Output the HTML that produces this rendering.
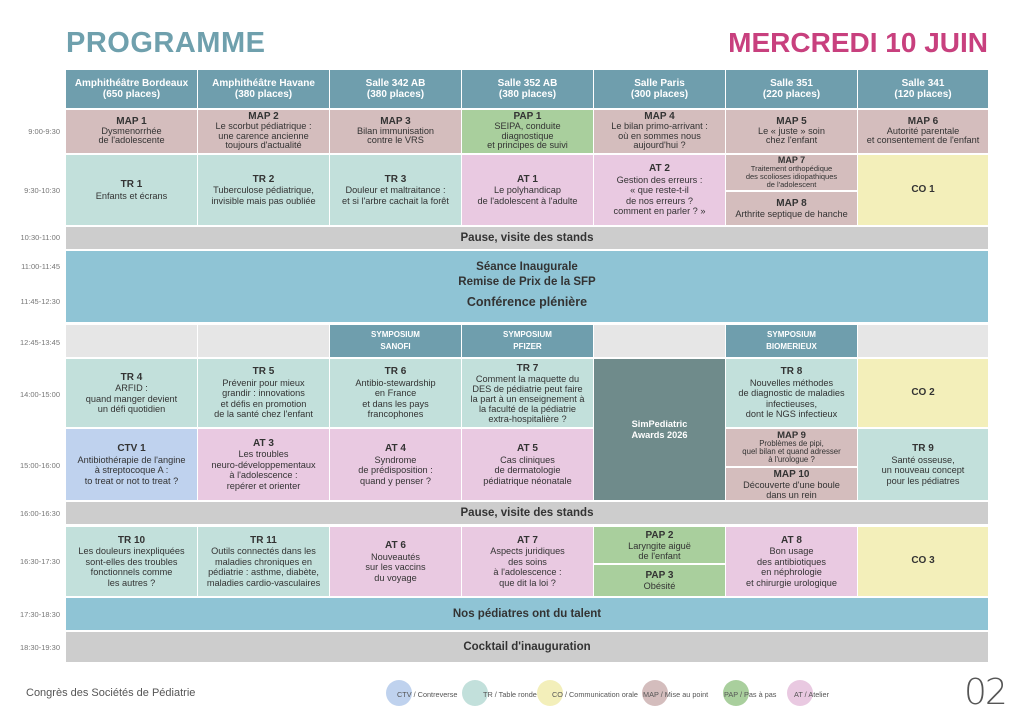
<!DOCTYPE html><html><head><meta charset="utf-8"><style>
body{margin:0;width:1024px;height:725px;background:#fff;position:relative;overflow:hidden;font-family:"Liberation Sans",sans-serif;}
.c{position:absolute;display:flex;align-items:center;justify-content:center;text-align:center;font-size:9.2px;line-height:10.5px;color:#333;box-sizing:border-box;padding:0 2px}
.c b{font-size:10px}
.h{background:#6f9ead;color:#fff;font-weight:bold;font-size:10px;line-height:11.5px}
.sy{background:#6f9ead;color:#fff;font-weight:bold;font-size:8px;line-height:12px}
.m{background:#d4bdbd}.t{background:#c2e0db}.a{background:#e9c9e1}.p{background:#a9cf9d}.o{background:#f3efba}.v{background:#bfd2ee}.g{background:#cdcdcd;font-weight:bold;font-size:11.5px}.e{background:#e6e6e6}.pl{background:#8fc4d5;font-weight:bold;font-size:11.5px;line-height:15px}
.r1{line-height:9.8px}
.tm{position:absolute;left:0;width:60px;text-align:right;font-size:7.5px;color:#777}
.lg{position:absolute;top:680px;width:26px;height:26px;border-radius:50%}
.lt{position:absolute;top:690px;font-size:7.3px;color:#555;white-space:nowrap}
</style></head><body>
<div style="position:absolute;left:66px;top:27px;font-size:29px;font-weight:bold;color:#6fa0ad;letter-spacing:0.5px">PROGRAMME</div>
<div style="position:absolute;right:36px;top:27px;font-size:28px;color:#c8407e;font-weight:bold">MERCREDI 10 JUIN</div>

<div class="c h" style="left:66px;top:70px;width:131px;height:38px">Amphithéâtre Bordeaux<br>(650 places)</div>
<div class="c h" style="left:198px;top:70px;width:131px;height:38px">Amphithéâtre Havane<br>(380 places)</div>
<div class="c h" style="left:330px;top:70px;width:131px;height:38px">Salle 342 AB<br>(380 places)</div>
<div class="c h" style="left:462px;top:70px;width:131px;height:38px">Salle 352 AB<br>(380 places)</div>
<div class="c h" style="left:594px;top:70px;width:131px;height:38px">Salle Paris<br>(300 places)</div>
<div class="c h" style="left:726px;top:70px;width:131px;height:38px">Salle 351<br>(220 places)</div>
<div class="c h" style="left:858px;top:70px;width:130px;height:38px">Salle 341<br>(120 places)</div>

<div class="tm" style="top:127px">9:00-9:30</div>
<div class="c m r1" style="left:66px;top:110px;width:131px;height:43px"><div><b>MAP 1</b><br>Dysmenorrhée<br>de l'adolescente</div></div>
<div class="c m r1" style="left:198px;top:110px;width:131px;height:43px"><div><b>MAP 2</b><br>Le scorbut pédiatrique :<br>une carence ancienne<br>toujours d'actualité</div></div>
<div class="c m r1" style="left:330px;top:110px;width:131px;height:43px"><div><b>MAP 3</b><br>Bilan immunisation<br>contre le VRS</div></div>
<div class="c p r1" style="left:462px;top:110px;width:131px;height:43px"><div><b>PAP 1</b><br>SEIPA, conduite<br>diagnostique<br>et principes de suivi</div></div>
<div class="c m r1" style="left:594px;top:110px;width:131px;height:43px"><div><b>MAP 4</b><br>Le bilan primo-arrivant :<br>où en sommes nous<br>aujourd'hui ?</div></div>
<div class="c m r1" style="left:726px;top:110px;width:131px;height:43px"><div><b>MAP 5</b><br>Le « juste » soin<br>chez l'enfant</div></div>
<div class="c m r1" style="left:858px;top:110px;width:130px;height:43px"><div><b>MAP 6</b><br>Autorité parentale<br>et consentement de l'enfant</div></div>

<div class="tm" style="top:186px">9:30-10:30</div>
<div class="c t" style="left:66px;top:155px;width:131px;height:70px"><div><b>TR 1</b><br>Enfants et écrans</div></div>
<div class="c t" style="left:198px;top:155px;width:131px;height:70px"><div><b>TR 2</b><br>Tuberculose pédiatrique,<br>invisible mais pas oubliée</div></div>
<div class="c t" style="left:330px;top:155px;width:131px;height:70px"><div><b>TR 3</b><br>Douleur et maltraitance :<br>et si l'arbre cachait la forêt</div></div>
<div class="c a" style="left:462px;top:155px;width:131px;height:70px"><div><b>AT 1</b><br>Le polyhandicap<br>de l'adolescent à l'adulte</div></div>
<div class="c a" style="left:594px;top:155px;width:131px;height:70px"><div><b>AT 2</b><br>Gestion des erreurs :<br>« que reste-t-il<br>de nos erreurs ?<br>comment en parler ? »</div></div>
<div class="c m" style="left:726px;top:155px;width:131px;height:35px;font-size:7.5px;line-height:8px"><div><b style="font-size:9px">MAP 7</b><br>Traitement orthopédique<br>des scolioses idiopathiques<br>de l'adolescent</div></div>
<div class="c m" style="left:726px;top:192px;width:131px;height:33px"><div><b>MAP 8</b><br>Arthrite septique de hanche</div></div>
<div class="c o" style="left:858px;top:155px;width:130px;height:70px"><b>CO 1</b></div>

<div class="tm" style="top:233px">10:30-11:00</div>
<div class="c g" style="left:66px;top:227px;width:922px;height:22px">Pause, visite des stands</div>
<div class="tm" style="top:262px">11:00-11:45</div>
<div class="tm" style="top:297px">11:45-12:30</div>
<div class="c pl" style="left:66px;top:251px;width:922px;height:71px"><div>Séance Inaugurale<br>Remise de Prix de la SFP<br><span style="font-size:12.5px;line-height:24px">Conférence plénière</span></div></div>

<div class="tm" style="top:338px">12:45-13:45</div>
<div class="c e" style="left:66px;top:325px;width:131px;height:32px"></div>
<div class="c e" style="left:198px;top:325px;width:131px;height:32px"></div>
<div class="c sy" style="left:330px;top:325px;width:131px;height:32px">SYMPOSIUM<br>SANOFI</div>
<div class="c sy" style="left:462px;top:325px;width:131px;height:32px">SYMPOSIUM<br>PFIZER</div>
<div class="c e" style="left:594px;top:325px;width:131px;height:32px"></div>
<div class="c sy" style="left:726px;top:325px;width:131px;height:32px">SYMPOSIUM<br>BIOMERIEUX</div>
<div class="c e" style="left:858px;top:325px;width:130px;height:32px"></div>

<div class="tm" style="top:390px">14:00-15:00</div>
<div class="c t" style="left:66px;top:359px;width:131px;height:68px"><div><b>TR 4</b><br>ARFID :<br>quand manger devient<br>un défi quotidien</div></div>
<div class="c t" style="left:198px;top:359px;width:131px;height:68px"><div><b>TR 5</b><br>Prévenir pour mieux<br>grandir : innovations<br>et défis en promotion<br>de la santé chez l'enfant</div></div>
<div class="c t" style="left:330px;top:359px;width:131px;height:68px"><div><b>TR 6</b><br>Antibio-stewardship<br>en France<br>et dans les pays<br>francophones</div></div>
<div class="c t" style="left:462px;top:359px;width:131px;height:68px;line-height:10px"><div><b>TR 7</b><br>Comment la maquette du<br>DES de pédiatrie peut faire<br>la part à un enseignement à<br>la faculté de la pédiatrie<br>extra-hospitalière ?</div></div>
<div class="c" style="left:594px;top:359px;width:131px;height:141px;background:#6f8b8b;color:#fff;font-weight:bold">SimPediatric<br>Awards 2026</div>
<div class="c t" style="left:726px;top:359px;width:131px;height:68px"><div><b>TR 8</b><br>Nouvelles méthodes<br>de diagnostic de maladies<br>infectieuses,<br>dont le NGS infectieux</div></div>
<div class="c o" style="left:858px;top:359px;width:130px;height:68px"><b>CO 2</b></div>

<div class="tm" style="top:461px">15:00-16:00</div>
<div class="c v" style="left:66px;top:429px;width:131px;height:71px"><div><b>CTV 1</b><br>Antibiothérapie de l'angine<br>à streptocoque A :<br>to treat or not to treat ?</div></div>
<div class="c a" style="left:198px;top:429px;width:131px;height:71px"><div><b>AT 3</b><br>Les troubles<br>neuro-développementaux<br>à l'adolescence :<br>repérer et orienter</div></div>
<div class="c a" style="left:330px;top:429px;width:131px;height:71px"><div><b>AT 4</b><br>Syndrome<br>de prédisposition :<br>quand y penser ?</div></div>
<div class="c a" style="left:462px;top:429px;width:131px;height:71px"><div><b>AT 5</b><br>Cas cliniques<br>de dermatologie<br>pédiatrique néonatale</div></div>
<div class="c m" style="left:726px;top:429px;width:131px;height:37px;font-size:7.8px;line-height:8px"><div><b style="font-size:9.5px">MAP 9</b><br>Problèmes de pipi,<br>quel bilan et quand adresser<br>à l'urologue ?</div></div>
<div class="c m" style="left:726px;top:468px;width:131px;height:32px;line-height:10px"><div><b>MAP 10</b><br>Découverte d'une boule<br>dans un rein</div></div>
<div class="c t" style="left:858px;top:429px;width:130px;height:71px"><div><b>TR 9</b><br>Santé osseuse,<br>un nouveau concept<br>pour les pédiatres</div></div>

<div class="tm" style="top:509px">16:00-16:30</div>
<div class="c g" style="left:66px;top:502px;width:922px;height:22px">Pause, visite des stands</div>

<div class="tm" style="top:557px">16:30-17:30</div>
<div class="c t" style="left:66px;top:527px;width:131px;height:69px"><div><b>TR 10</b><br>Les douleurs inexpliquées<br>sont-elles des troubles<br>fonctionnels comme<br>les autres ?</div></div>
<div class="c t" style="left:198px;top:527px;width:131px;height:69px"><div><b>TR 11</b><br>Outils connectés dans les<br>maladies chroniques en<br>pédiatrie : asthme, diabète,<br>maladies cardio-vasculaires</div></div>
<div class="c a" style="left:330px;top:527px;width:131px;height:69px"><div><b>AT 6</b><br>Nouveautés<br>sur les vaccins<br>du voyage</div></div>
<div class="c a" style="left:462px;top:527px;width:131px;height:69px"><div><b>AT 7</b><br>Aspects juridiques<br>des soins<br>à l'adolescence :<br>que dit la loi ?</div></div>
<div class="c p" style="left:594px;top:527px;width:131px;height:36px;line-height:10px"><div><b>PAP 2</b><br>Laryngite aiguë<br>de l'enfant</div></div>
<div class="c p" style="left:594px;top:565px;width:131px;height:31px"><div><b>PAP 3</b><br>Obésité</div></div>
<div class="c a" style="left:726px;top:527px;width:131px;height:69px"><div><b>AT 8</b><br>Bon usage<br>des antibiotiques<br>en néphrologie<br>et chirurgie urologique</div></div>
<div class="c o" style="left:858px;top:527px;width:130px;height:69px"><b>CO 3</b></div>

<div class="tm" style="top:610px">17:30-18:30</div>
<div class="c pl" style="left:66px;top:598px;width:922px;height:32px">Nos pédiatres ont du talent</div>
<div class="tm" style="top:643px">18:30-19:30</div>
<div class="c g" style="left:66px;top:632px;width:922px;height:30px">Cocktail d'inauguration</div>

<div style="position:absolute;left:26px;top:687px;font-size:11px;color:#555">Congrès des Sociétés de Pédiatrie</div>
<div class="lg" style="left:386px;background:#bfd2ee"></div><div class="lt" style="left:397px">CTV / Contreverse</div>
<div class="lg" style="left:462px;background:#c2e0db"></div><div class="lt" style="left:483px">TR / Table ronde</div>
<div class="lg" style="left:537px;background:#f3efba"></div><div class="lt" style="left:552px">CO / Communication orale</div>
<div class="lg" style="left:642px;background:#d4bdbd"></div><div class="lt" style="left:643px">MAP / Mise au point</div>
<div class="lg" style="left:723px;background:#a9cf9d"></div><div class="lt" style="left:724px">PAP / Pas à pas</div>
<div class="lg" style="left:787px;background:#e9c9e1"></div><div class="lt" style="left:794px">AT / Atelier</div>
<div style="position:absolute;left:964px;top:673px;font-size:36px;color:#555;line-height:40px;font-family:'DejaVu Sans',sans-serif;font-weight:200;letter-spacing:-2px">02</div>
</body></html>
